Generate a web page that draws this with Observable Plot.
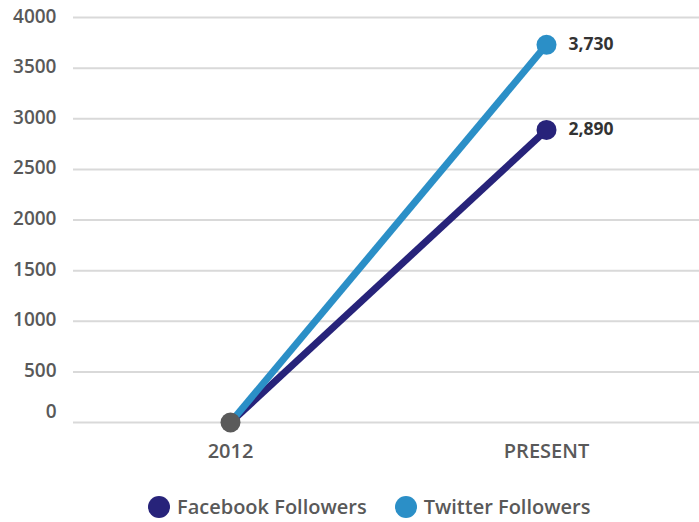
<!DOCTYPE html>
<html>
<head>
<meta charset="utf-8">
<script src="https://cdn.jsdelivr.net/npm/d3@7"></script>
<script src="https://cdn.jsdelivr.net/npm/@observablehq/plot@0.6"></script>
<style>
  html, body { margin: 0; padding: 0; background: #fff; }
  body { width: 699px; font-family: "Open Sans", "Noto Sans", sans-serif; }
  #legend { display: flex; justify-content: flex-start; align-items: center; padding-left: 148px; margin-top: 25px; color: #595959; font-size: 20px; font-weight: 600; }
  .item { display: flex; align-items: center; margin-right: 28px; }
  .sw { width: 22px; height: 22px; border-radius: 50%; margin-right: 7px; }
</style>
</head>
<body>
<div id="chart"></div>
<div id="legend"></div>
<script>
const categories = ["2012", "PRESENT"];
const facebookFollowers = [0, 2890];
const twitterFollowers = [0, 3730];
const yTicks = [0, 500, 1000, 1500, 2000, 2500, 3000, 3500, 4000];
const seriesNames = ["Facebook Followers", "Twitter Followers"];
const seriesColors = ["#27237a", "#2b8fc7"];

const rows = [];
categories.forEach((c, i) => {
  rows.push({cat: c, value: facebookFollowers[i], series: seriesNames[0]});
  rows.push({cat: c, value: twitterFollowers[i], series: seriesNames[1]});
});
const starts = rows.filter(d => d.cat === categories[0]);
const ends = rows.filter(d => d.cat === categories[categories.length - 1]);

const chart = Plot.plot({
  width: 699,
  height: 468,
  marginLeft: 73,
  marginRight: 0,
  marginTop: 17,
  marginBottom: 46,
  style: {fontFamily: "'Open Sans', 'Noto Sans', sans-serif", background: "#fff"},
  x: {type: "point", domain: categories, range: [230, 546], padding: 0, axis: null},
  y: {domain: [0, 4000], range: [422, 17], axis: null},
  color: {domain: seriesNames, range: seriesColors},
  marks: [
    Plot.ruleY(yTicks, {stroke: "#d9d9d9", strokeWidth: 2}),
    Plot.text(yTicks.filter(t => t > 0), {y: d => d, frameAnchor: "left", dx: -17, textAnchor: "end", text: d => String(d), fill: "#595959", fontSize: 19, fontWeight: 600, dy: -1}),
    Plot.text([0], {y: d => d, frameAnchor: "left", dx: -17, textAnchor: "end", text: d => String(d), fill: "#595959", fontSize: 19, fontWeight: 600, dy: -11}),
    Plot.text(categories, {x: d => d, frameAnchor: "bottom", dy: 21, text: d => d, fill: "#595959", fontSize: 20, fontWeight: 600, lineAnchor: "top"}),
    Plot.line(rows, {x: "cat", y: "value", z: "series", stroke: "series", strokeWidth: 7, strokeLinecap: "butt"}),
    Plot.dot(ends, {x: "cat", y: "value", fill: "series", r: 10}),
    Plot.dot(starts.slice(0, 1), {x: "cat", y: "value", fill: "#5a5a5a", r: 10}),
    Plot.text(ends, {x: "cat", y: "value", text: d => d3.format(",")(d.value), dx: 22, textAnchor: "start", fill: "#333333", fontWeight: "bold", fontSize: 17.5})
  ]
});
document.getElementById("chart").appendChild(chart);

const legend = document.getElementById("legend");
seriesNames.forEach((n, i) => {
  const it = document.createElement("div");
  it.className = "item";
  const sw = document.createElement("div");
  sw.className = "sw";
  sw.style.background = seriesColors[i];
  const t = document.createElement("span");
  t.textContent = n;
  it.appendChild(sw); it.appendChild(t);
  legend.appendChild(it);
});
</script>
</body>
</html>
